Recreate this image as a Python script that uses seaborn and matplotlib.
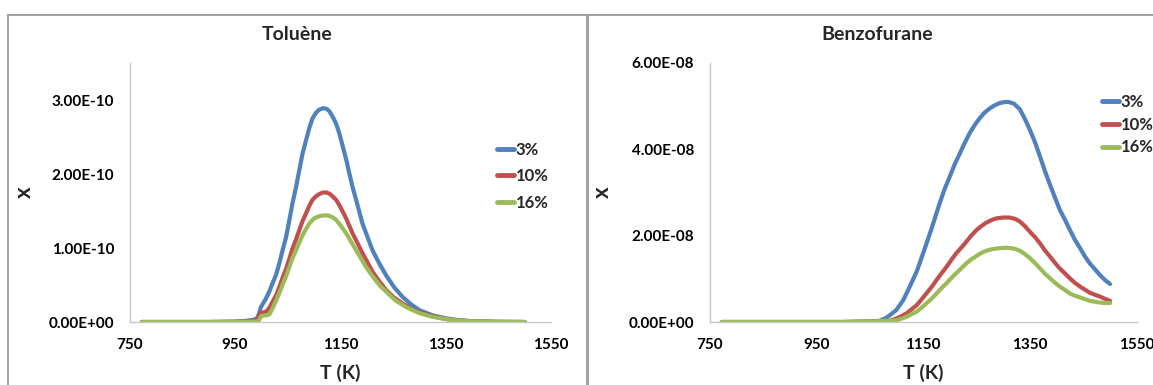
import matplotlib
matplotlib.use("Agg")
import matplotlib.pyplot as plt
import matplotlib.patches as mpatches
from matplotlib.ticker import FuncFormatter
import pandas as pd
import seaborn as sns

# ── Data ─────────────────────────────────────────────────────
CONCS = ["3%", "10%", "16%"]
COLORS = {"3%": "#4F81BD", "10%": "#C0504D", "16%": "#9BBB59"}

# Toluène, x in units of 1e-10
tol_T_3 = [773, 900, 950, 970, 985, 992, 996, 999, 1004, 1009, 1015, 1021, 1028, 1034,
           1040, 1047, 1053, 1059, 1066, 1072, 1078, 1085, 1091, 1097, 1104, 1110, 1118,
           1124, 1129, 1135, 1142, 1148, 1154, 1161, 1167, 1173, 1180, 1186, 1192, 1202,
           1211, 1224, 1237, 1252, 1268, 1284, 1300, 1325, 1350, 1375, 1400, 1450, 1500]
tol_x_3 = [0, 0, 0.005, 0.015, 0.03, 0.05, 0.12, 0.20, 0.26, 0.32, 0.41, 0.52, 0.64, 0.79,
           0.96, 1.15, 1.37, 1.60, 1.83, 2.05, 2.27, 2.46, 2.62, 2.75, 2.83, 2.87, 2.89,
           2.88, 2.85, 2.78, 2.68, 2.55, 2.39, 2.20, 2.01, 1.83, 1.65, 1.49, 1.33, 1.14,
           0.97, 0.79, 0.63, 0.47, 0.34, 0.24, 0.16, 0.09, 0.05, 0.025, 0.01, 0.002, 0]
tol_T_10 = [773, 900, 950, 985, 992, 996, 1000, 1009, 1015, 1021, 1028, 1034, 1040, 1047,
            1053, 1059, 1066, 1072, 1078, 1085, 1091, 1097, 1104, 1110, 1117, 1124, 1130,
            1135, 1142, 1148, 1154, 1161, 1167, 1173, 1183, 1192, 1202, 1211, 1224, 1237,
            1252, 1268, 1284, 1300, 1325, 1350, 1375, 1400, 1450, 1500]
tol_x_10 = [0, 0, 0.003, 0.01, 0.03, 0.10, 0.12, 0.14, 0.19, 0.27, 0.36, 0.47, 0.59, 0.72,
            0.85, 0.99, 1.12, 1.24, 1.36, 1.47, 1.57, 1.65, 1.70, 1.73, 1.75, 1.75, 1.73,
            1.70, 1.65, 1.58, 1.50, 1.40, 1.30, 1.20, 1.06, 0.93, 0.80, 0.68, 0.55, 0.43,
            0.33, 0.25, 0.18, 0.13, 0.08, 0.04, 0.02, 0.01, 0.002, 0]
tol_T_16 = [773, 900, 950, 990, 995, 1000, 1008, 1015, 1021, 1028, 1034, 1040, 1047, 1053,
            1059, 1066, 1072, 1078, 1085, 1091, 1100, 1110, 1118, 1126, 1134, 1142, 1151,
            1161, 1170, 1180, 1190, 1199, 1211, 1224, 1240, 1255, 1275, 1300, 1325, 1350,
            1375, 1400, 1450, 1500]
tol_x_16 = [0, 0, 0.002, 0.005, 0.02, 0.08, 0.09, 0.10, 0.18, 0.29, 0.39, 0.50, 0.62, 0.74,
            0.86, 0.97, 1.07, 1.17, 1.26, 1.33, 1.40, 1.43, 1.44, 1.44, 1.42, 1.38, 1.30,
            1.20, 1.09, 0.97, 0.85, 0.74, 0.62, 0.50, 0.39, 0.29, 0.20, 0.12, 0.07, 0.04,
            0.02, 0.01, 0.002, 0]

# Benzofurane, x in units of 1e-8
bzf_T_3 = [773, 900, 1000, 1050, 1069, 1080, 1088, 1100, 1113, 1125, 1138, 1150, 1163,
           1172, 1181, 1190, 1200, 1209, 1219, 1228, 1237, 1247, 1256, 1265, 1275, 1284,
           1293, 1300, 1309, 1320, 1331, 1340, 1350, 1360, 1369, 1378, 1388, 1397, 1406,
           1416, 1425, 1434, 1444, 1453, 1462, 1472, 1481, 1490, 1500]
bzf_x_3 = [0, 0, 0, 0.01, 0.03, 0.09, 0.16, 0.28, 0.51, 0.82, 1.17, 1.59, 2.06, 2.40,
           2.75, 3.07, 3.37, 3.65, 3.91, 4.15, 4.37, 4.57, 4.72, 4.85, 4.95, 5.02, 5.07,
           5.09, 5.10, 5.06, 4.93, 4.72, 4.45, 4.15, 3.83, 3.50, 3.17, 2.88, 2.60, 2.36,
           2.13, 1.91, 1.71, 1.52, 1.36, 1.22, 1.09, 0.98, 0.88]
bzf_T_10 = [773, 900, 1000, 1050, 1088, 1100, 1110, 1119, 1128, 1138, 1147, 1156, 1166,
            1175, 1184, 1194, 1203, 1212, 1222, 1231, 1240, 1250, 1259, 1268, 1278, 1287,
            1300, 1312, 1322, 1331, 1340, 1350, 1360, 1369, 1378, 1388, 1397, 1406, 1416,
            1425, 1434, 1444, 1453, 1462, 1472, 1481, 1490, 1500]
bzf_x_10 = [0, 0, 0, 0.01, 0.03, 0.08, 0.14, 0.20, 0.29, 0.39, 0.52, 0.66, 0.81, 0.97,
            1.12, 1.28, 1.44, 1.59, 1.73, 1.86, 2.00, 2.13, 2.22, 2.30, 2.36, 2.40, 2.42,
            2.42, 2.39, 2.33, 2.23, 2.09, 1.96, 1.82, 1.66, 1.51, 1.37, 1.24, 1.12, 1.01,
            0.91, 0.82, 0.75, 0.68, 0.63, 0.59, 0.54, 0.49]
bzf_T_16 = [773, 900, 1000, 1050, 1100, 1110, 1119, 1128, 1138, 1147, 1156, 1166, 1175,
            1184, 1194, 1203, 1212, 1222, 1231, 1240, 1250, 1259, 1268, 1280, 1293, 1305,
            1315, 1323, 1331, 1340, 1350, 1360, 1369, 1378, 1388, 1397, 1406, 1416, 1425,
            1434, 1444, 1453, 1462, 1472, 1481, 1490, 1500]
bzf_x_16 = [0, 0, 0, 0.01, 0.04, 0.08, 0.12, 0.18, 0.24, 0.33, 0.43, 0.54, 0.66, 0.78,
            0.90, 1.02, 1.13, 1.25, 1.36, 1.45, 1.53, 1.60, 1.65, 1.69, 1.71, 1.72, 1.71,
            1.69, 1.65, 1.58, 1.48, 1.36, 1.24, 1.12, 1.01, 0.91, 0.82, 0.74, 0.66, 0.61,
            0.57, 0.53, 0.49, 0.47, 0.45, 0.44, 0.44]


def long_df(Ts, xs, scale):
    rows = []
    for conc, T, x in zip(CONCS, Ts, xs):
        for t, v in zip(T, x):
            rows.append({"T": t, "x": v * scale, "conc": conc})
    return pd.DataFrame(rows)


tol = long_df([tol_T_3, tol_T_10, tol_T_16], [tol_x_3, tol_x_10, tol_x_16], 1e-10)
bzf = long_df([bzf_T_3, bzf_T_10, bzf_T_16], [bzf_x_3, bzf_x_10, bzf_x_16], 1e-8)

# ── Figure ───────────────────────────────────────────────────
sns.set_style("white")
plt.rcParams["font.family"] = ["Lato", "DejaVu Sans"]
plt.rcParams["font.weight"] = "bold"

W, H = 1153, 385
fig = plt.figure(figsize=(W / 100, H / 100), dpi=100)

# chart boxes (Excel-style frames)
for x0, x1 in [(8, 586.5), (588, 1170)]:
    fig.add_artist(mpatches.Rectangle((x0 / W, -0.1), (x1 - x0) / W, 1.1 - 14.5 / H,
                                      transform=fig.transFigure, fill=False,
                                      edgecolor="#A0A0A0", lw=1.4))

panels = [
    # df, title, title_x, axes px box (left, right), ylim, yticks, legend anchor, spacing
    (tol, "Toluène", 297, (129.7, 551.0), 3.5e-10, [0, 1e-10, 2e-10, 3e-10],
     (0.872, 0.695), 0.62),
    (bzf, "Benzofurane", 877, (709.5, 1136.7), 6e-8, [0, 2e-8, 4e-8, 6e-8],
     (0.919, 0.880), 0.40),
]

fmt = FuncFormatter(lambda v, p: f"{v:.2E}")

for df, title, tx, (pl, pr), ymax, yticks, anchor, lsp in panels:
    ax = fig.add_axes([pl / W, (H - 322) / H, (pr - pl) / W, 259 / H])
    sns.lineplot(data=df, x="T", y="x", hue="conc", palette=COLORS,
                 linewidth=3, ax=ax, sort=False,
                 solid_joinstyle="round", solid_capstyle="round")
    ax.set_xlim(750, 1550)
    ax.set_ylim(0, ymax)
    ax.set_xticks([750, 950, 1150, 1350, 1550])
    ax.set_yticks(yticks)
    ax.yaxis.set_major_formatter(fmt)
    for s in ["top", "right"]:
        ax.spines[s].set_visible(False)
    for s in ["left", "bottom"]:
        ax.spines[s].set_color("#C8C8C8")
        ax.spines[s].set_linewidth(1)
    ax.tick_params(axis="both", direction="out", color="#C8C8C8", width=1,
                   labelsize=11, labelcolor="black")
    ax.tick_params(axis="y", length=3.6, pad=7.5)
    ax.tick_params(axis="x", length=4.3, pad=7)
    for lab in ax.get_xticklabels() + ax.get_yticklabels():
        lab.set_fontweight("bold")

    ax.set_xlabel("T (K)", fontsize=14, fontweight="bold")
    ax.set_ylabel("x", fontsize=16, fontweight="bold")
    ax.xaxis.set_label_coords(0.5, -0.16)
    ax.yaxis.set_label_coords(-0.225, 0.5)

    leg = ax.legend(loc="upper left", bbox_to_anchor=anchor, frameon=False,
                    borderpad=0, borderaxespad=0, handlelength=1.0,
                    handletextpad=0.1, labelspacing=lsp,
                    prop={"size": 12, "weight": "bold"})
    for h in leg.get_lines():
        h.set_linewidth(3.5)
    leg.set_title(None)

    fig.text(tx / W, 1 - 35 / H, title, ha="center", va="center",
             fontsize=14, fontweight="bold")

fig.savefig("out.png", dpi=100)
